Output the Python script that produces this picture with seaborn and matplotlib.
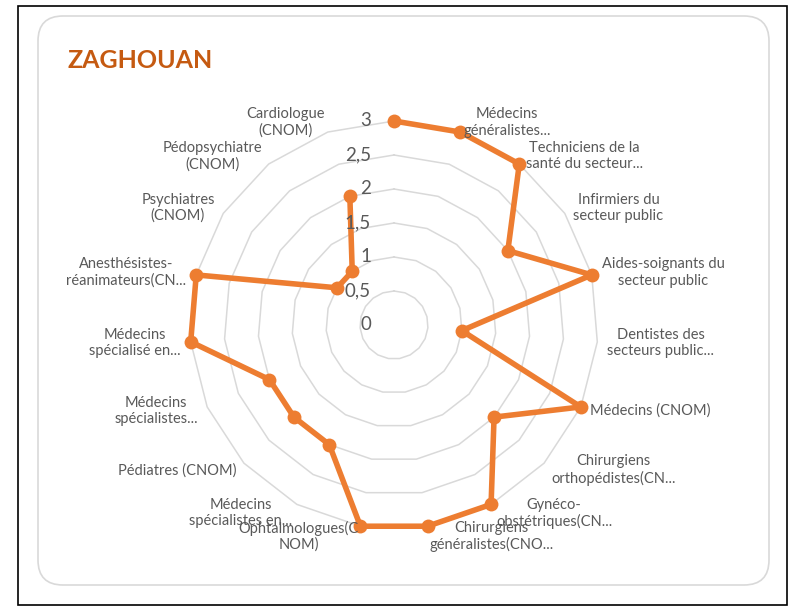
import numpy as np
import pandas as pd
import matplotlib
matplotlib.use("Agg")
import matplotlib.pyplot as plt
import matplotlib.transforms as mtransforms
from matplotlib.patches import FancyBboxPatch, Rectangle
import seaborn as sns

# données
title = "ZAGHOUAN"
categories = [
    "",
    "Médecins\ngénéralistes...",
    "Techniciens de la\nsanté du secteur...",
    "Infirmiers du\nsecteur public",
    "Aides-soignants du\nsecteur public",
    "Dentistes des\nsecteurs public...",
    "Médecins (CNOM)",
    "Chirurgiens\northopédistes(CN...",
    "Gynéco-\nobstétriques(CN...",
    "Chirurgiens\ngénéralistes(CNO...",
    "Ophtalmologues(C\nNOM)",
    "Médecins\nspécialistes en...",
    "Pédiatres (CNOM)",
    "Médecins\nspécialistes...",
    "Médecins\nspécialisé en...",
    "Anesthésistes-\nréanimateurs(CN...",
    "Psychiatres\n(CNOM)",
    "Pédopsychiatre\n(CNOM)",
    "Cardiologue\n(CNOM)",
]
values = [3, 3, 3, 2, 3, 1, 3, 2, 3, 3, 3, 2, 2, 2, 3, 3, 1, 1, 2]
r_ticks = [0, 0.5, 1, 1.5, 2, 2.5, 3]
r_tick_labels = ["0", "0,5", "1", "1,5", "2", "2,5", "3"]

ORANGE = "#ED7D31"
TITLE_ORANGE = "#C55A11"
GREY_TXT = "#595959"
GRID = "#D9D9D9"

sns.set_theme(style="white")
plt.rcParams["font.family"] = ["Lato", "DejaVu Sans"]

W, H = 789, 608
fig = plt.figure(figsize=(W / 100, H / 100), dpi=100)
fig.patch.set_facecolor("white")

# cadres
fig.patches.append(Rectangle((0.18, 0.03), 7.69, 5.99, transform=fig.dpi_scale_trans,
                             fill=False, edgecolor="black", lw=1.2))
fig.patches.append(FancyBboxPatch((0.38, 0.23), 7.31, 5.69, transform=fig.dpi_scale_trans,
                                  boxstyle="round,pad=0,rounding_size=0.25",
                                  fill=False, edgecolor="#D9D9D9", lw=1.2))

fig.text(68 / W, 1 - 60 / H, title, ha="left", va="center", fontsize=18,
         fontweight="bold", color=TITLE_ORANGE)

# axe polaire : centre (394, 325) px, rayon 204 px pour r = 3
cx, cy, rad = 394, 325, 204
ax = fig.add_axes([(cx - rad) / W, (H - cy - rad) / H, 2 * rad / W, 2 * rad / H],
                  projection="polar")
ax.set_facecolor("none")
ax.set_theta_zero_location("N")
ax.set_theta_direction(-1)

n = len(categories)
theta = np.linspace(0, 2 * np.pi, n, endpoint=False)
theta_closed = np.append(theta, theta[0])

# grille polygonale
for lvl in r_ticks[1:]:
    ax.plot(theta_closed, [lvl] * (n + 1), color=GRID, lw=1.1, zorder=0)

df = pd.DataFrame({"theta": theta_closed, "value": values + values[:1]})
sns.lineplot(data=df, x="theta", y="value", sort=False, ax=ax, color=ORANGE,
             lw=4, marker="o", markersize=10, markeredgewidth=0, zorder=3)
for line in ax.lines:
    line.set_clip_on(False)

ax.set_ylim(0, 3)
ax.set_xticks([])
ax.set_yticks([])
ax.set_xlabel("")
ax.set_ylabel("")
ax.grid(False)
ax.spines["polar"].set_visible(False)

# étiquettes de l'axe radial
off = mtransforms.offset_copy(ax.transData, fig=fig, x=-23, y=0, units="dots")
for r, lab in zip(r_ticks, r_tick_labels):
    ax.text(0, r, lab, transform=off, ha="right", va="center", fontsize=13.5,
            color=GREY_TXT, zorder=4)

# étiquettes des catégories
for t, lab in zip(theta, categories):
    s = np.sin(t)
    ha = "left" if s > 0.05 else ("right" if s < -0.05 else "center")
    ax.text(t, 3.15, lab, ha=ha, va="center", multialignment="center",
            fontsize=10.5, color=GREY_TXT, clip_on=False)

fig.savefig("out.png", dpi=100)
